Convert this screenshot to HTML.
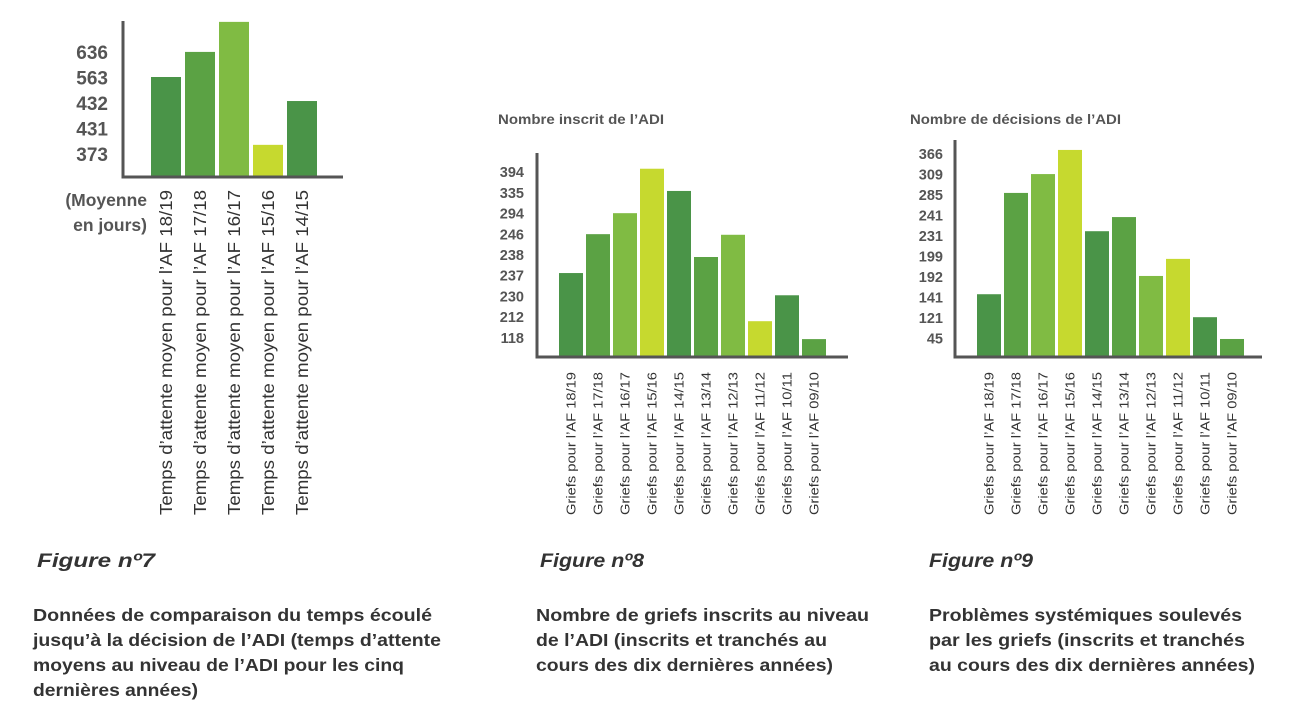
<!DOCTYPE html>
<html><head><meta charset="utf-8"><style>
body{margin:0;background:#fff;}
svg{display:block;font-family:"Liberation Sans",Arial,sans-serif;}
.tk{font-weight:bold;fill:#555;}
.cap{font-weight:bold;fill:#333;font-size:17.5px;}
.fig{font-weight:bold;font-style:italic;fill:#333;font-size:19px;}
</style></head><body>
<svg id="s" width="1301" height="718">
<g>
<text class="tk" x="147" y="206" text-anchor="end" font-size="17.5">(Moyenne</text>
<text class="tk" x="147" y="231" text-anchor="end" font-size="17.5">en jours)</text>
<text class="fig" x="37" y="567" textLength="118" lengthAdjust="spacingAndGlyphs">Figure nº7</text>
<text class="cap" y="621" lengthAdjust="spacingAndGlyphs"><tspan x="33" textLength="399" lengthAdjust="spacingAndGlyphs">Données de comparaison du temps écoulé</tspan><tspan x="33" dy="25" textLength="408" lengthAdjust="spacingAndGlyphs">jusqu’à la décision de l’ADI (temps d’attente</tspan><tspan x="33" dy="25" textLength="371" lengthAdjust="spacingAndGlyphs">moyens au niveau de l’ADI pour les cinq</tspan><tspan x="33" dy="25" textLength="165" lengthAdjust="spacingAndGlyphs">dernières années)</tspan></text>
</g>
<g>
<text class="tk" x="498" y="124" font-size="13.5" textLength="166" lengthAdjust="spacingAndGlyphs">Nombre inscrit de l’ADI</text>
<text class="fig" x="540" y="567" textLength="104" lengthAdjust="spacingAndGlyphs">Figure nº8</text>
<text class="cap" y="621"><tspan x="536" textLength="333" lengthAdjust="spacingAndGlyphs">Nombre de griefs inscrits au niveau</tspan><tspan x="536" dy="25" textLength="291" lengthAdjust="spacingAndGlyphs">de l’ADI (inscrits et tranchés au</tspan><tspan x="536" dy="25" textLength="297" lengthAdjust="spacingAndGlyphs">cours des dix dernières années)</tspan></text>
</g>
<g>
<text class="tk" x="910" y="124" font-size="13.5" textLength="211" lengthAdjust="spacingAndGlyphs">Nombre de décisions de l’ADI</text>
<text class="fig" x="929" y="567" textLength="104" lengthAdjust="spacingAndGlyphs">Figure nº9</text>
<text class="cap" y="621"><tspan x="929" textLength="313" lengthAdjust="spacingAndGlyphs">Problèmes systémiques soulevés</tspan><tspan x="929" dy="25" textLength="316" lengthAdjust="spacingAndGlyphs">par les griefs (inscrits et tranchés</tspan><tspan x="929" dy="25" textLength="326" lengthAdjust="spacingAndGlyphs">au cours des dix dernières années)</tspan></text>
</g>
</svg>
<script>
const cats7 = ["18/19","17/18","16/17","15/16","14/15"];
const vals7 = [565, 636, 721, 373, 497];
const ticks7 = ["636","563","432","431","373"];
const cats10 = ["18/19","17/18","16/17","15/16","14/15","13/14","12/13","11/12","10/11","09/10"];
const vals8 = [225, 288, 322, 394, 358, 251, 287, 147, 189, 118];
const ticks8 = ["394","335","294","246","238","237","230","212","118"];
const vals9 = [121, 293, 325, 366, 228, 252, 152, 181, 82, 45];
const ticks9 = ["366","309","285","241","231","199","192","141","121","45"];
const colors = ["#4a9448","#5ba244","#80bb43","#c6d92f"];
const NS="http://www.w3.org/2000/svg";
const svg=document.getElementById('s');
function mk(tag,attrs,parent){const e=document.createElementNS(NS,tag);for(const k in attrs)e.setAttribute(k,attrs[k]);(parent||svg).appendChild(e);return e;}
function chart(o){
  const g=mk('g',{});
  
  
  const y=v=>o.base-(v-o.vmin)*o.k;
  o.vals.forEach((v,i)=>{
    const top=y(v);
    const r=mk('rect',{x:o.x0+i*o.step,y:top,width:o.bw,height:o.base-top,fill:colors[i%4]},g);
    
    
    const cx=o.x0+i*o.step+o.bw/2+o.fs*0.35;
    const t=mk('text',{x:0,y:0,'font-size':o.fs,fill:'#333','text-anchor':'end',textLength:o.tl,lengthAdjust:'spacingAndGlyphs',transform:`translate(${cx},${o.lblTop}) rotate(-90)`},g);
    t.textContent=o.prefix+o.cats[i];
    
    
  });
  o.ticks.forEach((s,i)=>{
    const t=mk('text',{x:o.tx,y:o.ty0+i*o.tstep+o.tfs*0.36,'font-size':o.tfs,'text-anchor':'end',class:'tk'},g);
    t.textContent=s;
    
    
  });
  const ax=mk('path',{d:`M${o.ax},${o.atop} V${o.base} H${o.aright}`,stroke:'#555','stroke-width':3,fill:'none'},g);
  
  
}
chart({name:'chart-7',cats:cats7,vals:vals7,ticks:ticks7,base:177,vmin:282,k:1/2.83,x0:151,step:34,bw:30,fs:17.5,tl:325,lblTop:190,prefix:"Temps d’attente moyen pour l’AF ",tx:108,ty0:52,tstep:25.5,tfs:19,ax:123,atop:21,aright:343});
chart({name:'chart-8',cats:cats10,vals:vals8,ticks:ticks8,base:357,vmin:89,k:1/1.62,x0:559,step:27,bw:24,fs:12.5,tl:143,lblTop:372,prefix:"Griefs pour l’AF ",tx:524,ty0:172,tstep:20.7,tfs:14.5,ax:537,atop:153,aright:848});
chart({name:'chart-9',cats:cats10,vals:vals9,ticks:ticks9,base:357,vmin:14.4,k:1/1.698,x0:977,step:27,bw:24,fs:12.5,tl:143,lblTop:372,prefix:"Griefs pour l’AF ",tx:943,ty0:154,tstep:20.5,tfs:14.5,ax:955,atop:140,aright:1262});
</script>
</body></html>
